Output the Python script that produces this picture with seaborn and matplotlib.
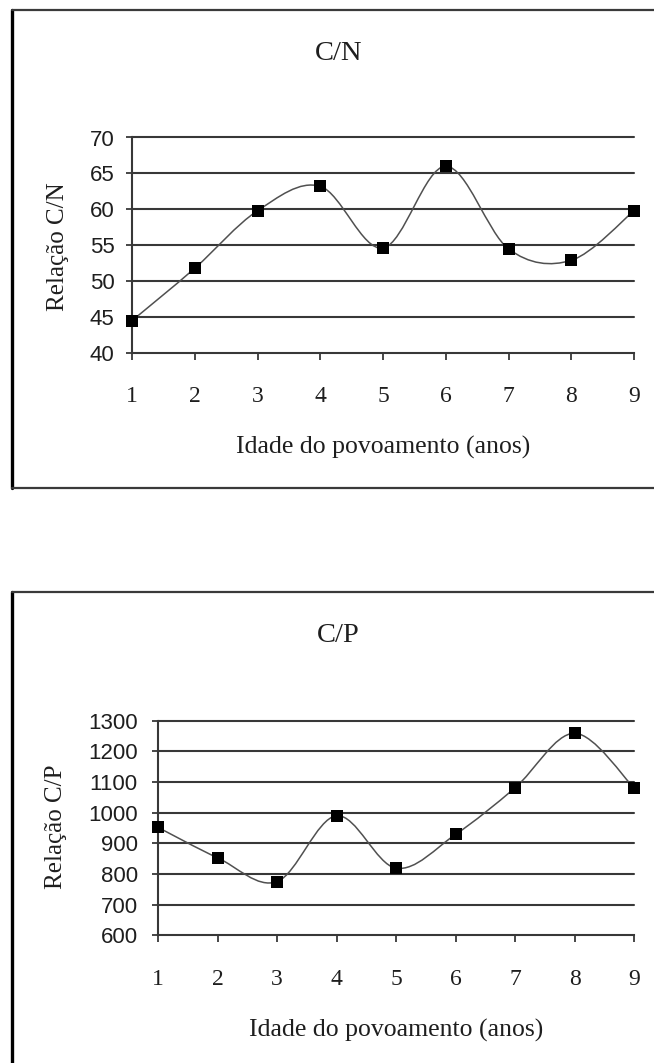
import matplotlib
matplotlib.use("Agg")
import matplotlib.pyplot as plt
from matplotlib.path import Path
from matplotlib.patches import PathPatch
from matplotlib.lines import Line2D
import seaborn as sns
import pandas as pd

# ---- data ----
idade = [1, 2, 3, 4, 5, 6, 7, 8, 9]
rel_cn = [44.5, 51.8, 59.8, 63.2, 54.6, 66.0, 54.5, 52.9, 59.8]
rel_cp = [952, 853, 775, 990, 819, 929, 1081, 1259, 1081]
cn_ticks = [40, 45, 50, 55, 60, 65, 70]
cp_ticks = [600, 700, 800, 900, 1000, 1100, 1200, 1300]
titles = ["C/N", "C/P"]
ylabels = ["Relação C/N", "Relação C/P"]
xlabel = "Idade do povoamento (anos)"

sns.set_theme(style="white")
plt.rcParams["font.family"] = ["Liberation Serif", "DejaVu Serif"]

W, H = 654, 1063
fig = plt.figure(figsize=(W / 100, H / 100), dpi=100)
fig.patch.set_facecolor("white")

GRID = "#383838"
CURVE = "#505050"
TEXT = "#1e1e1e"


def fx(px):
    return px / W


def fy(py):
    return 1 - py / H


def smooth_path(xs, ys):
    pts = list(zip(xs, ys))
    n = len(pts)
    verts = [pts[0]]
    codes = [Path.MOVETO]
    for i in range(n - 1):
        p0 = pts[i - 1] if i > 0 else pts[i]
        p1 = pts[i]
        p2 = pts[i + 1]
        p3 = pts[i + 2] if i + 2 < n else pts[i + 1]
        c1 = (p1[0] + (p2[0] - p0[0]) / 6, p1[1] + (p2[1] - p0[1]) / 6)
        c2 = (p2[0] - (p3[0] - p1[0]) / 6, p2[1] - (p3[1] - p1[1]) / 6)
        verts += [c1, c2, p2]
        codes += [Path.CURVE4] * 3
    return Path(verts, codes)


def panel(ax_px, values, ticks, title, title_px, ylabel, ylab_px, xlab_py, box_top, box_bottom, ypad):
    left, right, top, bottom = ax_px
    ax = fig.add_axes([fx(left), fy(bottom), (right - left) / W, (bottom - top) / H])
    df = pd.DataFrame({"idade": idade, "valor": values})
    ax.add_patch(PathPatch(smooth_path(df["idade"], df["valor"]), facecolor="none",
                           edgecolor=CURVE, lw=1.1, zorder=3, transform=ax.transData))
    sns.scatterplot(data=df, x="idade", y="valor", marker="s", color="black",
                    s=78, edgecolor="black", linewidth=0, ax=ax, zorder=4, clip_on=False)
    ax.set_xlim(1, 9)
    ax.set_ylim(ticks[0], ticks[-1])
    ax.set_xticks(idade)
    ax.set_yticks(ticks)
    ax.set_xticklabels([str(v) for v in idade])
    ax.set_yticklabels([str(v) for v in ticks])
    for t in ticks[1:]:
        ax.axhline(t, color=GRID, lw=1.5, zorder=1, clip_on=False)
    for s in ["top", "right"]:
        ax.spines[s].set_visible(False)
    for s in ["left", "bottom"]:
        ax.spines[s].set_visible(True)
        ax.spines[s].set_color(GRID)
        ax.spines[s].set_linewidth(1.5)
    ax.tick_params(axis="y", direction="out", length=4.5, width=1.3, color=GRID,
                   pad=ypad, labelsize=16, labelfontfamily="Liberation Sans",
                   labelcolor=TEXT, left=True)
    ax.tick_params(axis="x", direction="out", length=5, width=1.3, color=GRID,
                   pad=19, labelsize=17, labelcolor=TEXT, bottom=True)
    ax.set_xlabel(xlabel, fontsize=18.5, color=TEXT)
    ax.set_ylabel(ylabel, fontsize=18, color=TEXT)
    ax.xaxis.set_label_coords((((left + right) / 2) - left) / (right - left),
                              -(xlab_py - bottom) / (bottom - top))
    ax.xaxis.label.set_va("center")
    ax.yaxis.set_label_coords((ylab_px[0] - left) / (right - left),
                              (bottom - ylab_px[1]) / (bottom - top))
    ax.yaxis.label.set_va("center")
    ax.set_facecolor("white")
    fig.text(fx(title_px[0]), fy(title_px[1]), title, fontsize=20.5, ha="center",
             va="center", color=TEXT)
    # outer chart frame
    fig.add_artist(Line2D([fx(12), fx(12)], [fy(box_top), fy(box_bottom)],
                          color="black", lw=2.4))
    fig.add_artist(Line2D([fx(12), fx(W + 5)], [fy(box_top), fy(box_top)],
                          color="#3a3a3a", lw=1.6))
    if box_bottom < H:
        fig.add_artist(Line2D([fx(12), fx(W + 5)], [fy(box_bottom), fy(box_bottom)],
                              color="#3a3a3a", lw=1.6))
    return ax


panel((132, 634, 137.5, 353), rel_cn, cn_ticks, titles[0], (339, 53), ylabels[0],
      (58, 247), 447, 10, 488, 8)
panel((158, 634, 720.7, 935.3), rel_cp, cp_ticks, titles[1], (338, 636), ylabels[1],
      (56, 827), 1030, 592, H + 5, 10)

fig.savefig("out.png", dpi=100, facecolor="white")
